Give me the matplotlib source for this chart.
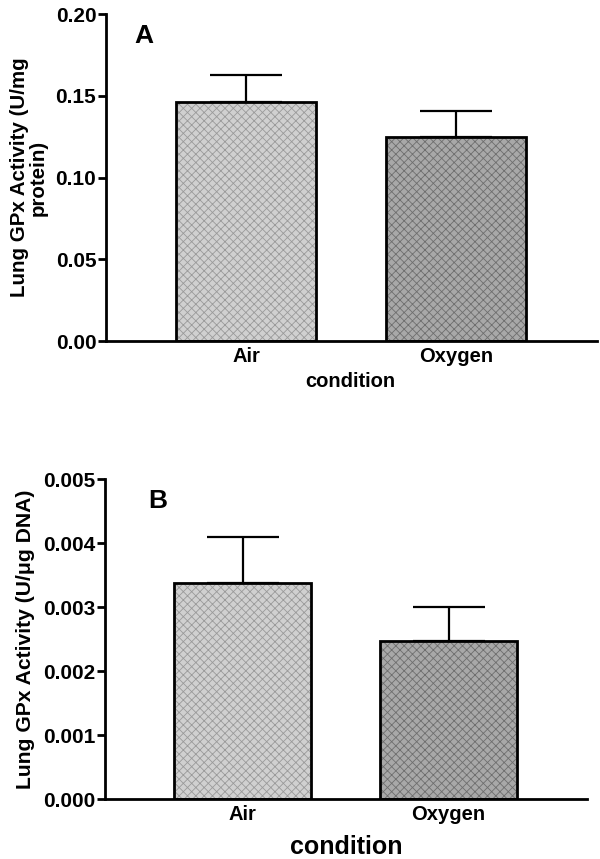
import numpy as np
import matplotlib
matplotlib.use("Agg")
import matplotlib.pyplot as plt

plt.rcParams['font.family'] = ['Liberation Sans', 'DejaVu Sans']
plt.rcParams['font.weight'] = 'bold'
plt.rcParams['hatch.linewidth'] = 0.6

conditions = ["Air", "Oxygen"]
gpx_protein = [0.146, 0.1248]
gpx_protein_err = [0.017, 0.0158]
gpx_dna = [0.00338, 0.00247]
gpx_dna_err = [0.00072, 0.00054]

fills = ["#d0d0d0", "#a8a8a8"]
hatch_cols = ["#9a9a9a", "#6e6e6e"]


def draw_panel(ax, values, errs, ylim, yticks, fmt, ylabel, letter, letter_x,
               label_size, xlabel_size):
    x = np.arange(len(conditions))
    for i in range(len(conditions)):
        ax.bar(x[i], values[i], width=0.667, color=fills[i], hatch='xxxx',
               edgecolor=hatch_cols[i], linewidth=0, zorder=2)
    ax.bar(x, values, width=0.667, fill=False, edgecolor='black', linewidth=2, zorder=3)
    ax.errorbar(x, values, yerr=[np.zeros(len(errs)), errs], fmt='none',
                ecolor='black', elinewidth=1.6, capsize=26, capthick=1.6, zorder=1)
    ax.set_xlim(-0.667, 1.67)
    ax.set_ylim(*ylim)
    ax.set_yticks(yticks)
    ax.set_yticklabels([fmt.format(t) for t in yticks], fontsize=15, fontweight='bold')
    ax.set_xticks(x)
    ax.set_xticklabels(conditions, fontsize=14.5, fontweight='bold')
    ax.tick_params(axis='x', length=0, pad=4)
    ax.tick_params(axis='y', length=6, width=2, direction='out', pad=1)
    for s in ['top', 'right']:
        ax.spines[s].set_visible(False)
    for s in ['left', 'bottom']:
        ax.spines[s].set_linewidth(2)
    ax.set_ylabel(ylabel, fontsize=label_size, fontweight='bold', linespacing=0.95, labelpad=6)
    ax.text(letter_x, 0.933, letter, transform=ax.transAxes, fontsize=19,
            fontweight='bold', ha='left', va='center')
    ax.set_xlabel("condition", fontsize=xlabel_size, fontweight='bold', labelpad=2)


fig = plt.figure(figsize=(6, 8.59), dpi=100)
ax1 = fig.add_axes([0.1767, 0.603, 0.818, 0.3807])
ax2 = fig.add_axes([0.175, 0.0695, 0.803, 0.3725])

draw_panel(ax1, gpx_protein, gpx_protein_err, (0, 0.20),
           [0.00, 0.05, 0.10, 0.15, 0.20], "{:.2f}",
           "Lung GPx Activity (U/mg\nprotein)", "A", 0.057, 14.8, 14.5)
draw_panel(ax2, gpx_dna, gpx_dna_err, (0, 0.005),
           [0.000, 0.001, 0.002, 0.003, 0.004, 0.005], "{:.3f}",
           "Lung GPx Activity (U/\u03bcg DNA)", "B", 0.089, 15.2, 18)

ax1.xaxis.set_label_coords(0.497, -0.095)
ax2.xaxis.set_label_coords(0.5, -0.112)

fig.savefig("out.png", dpi=100)
